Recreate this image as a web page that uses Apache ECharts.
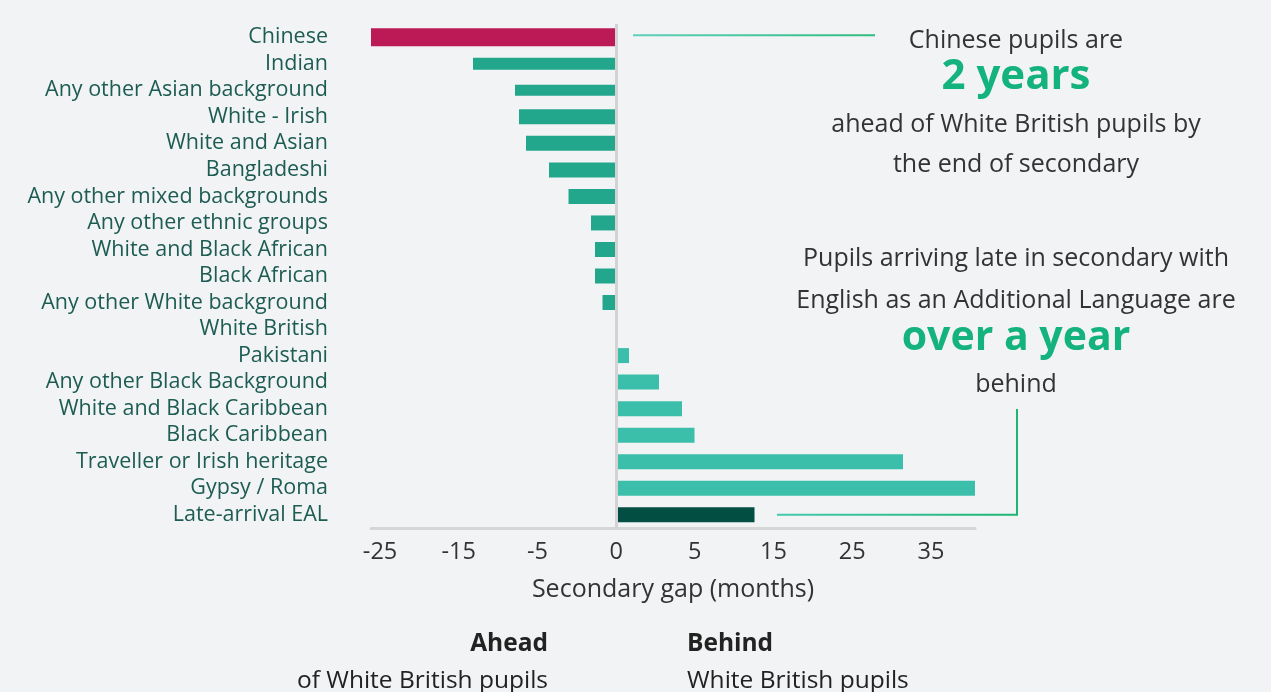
<!DOCTYPE html>
<html>
<head>
<meta charset="utf-8">
<script src="https://cdn.jsdelivr.net/npm/echarts@6/dist/echarts.min.js"></script>
<style>
html,body{margin:0;padding:0;background:#f2f3f5;}
#chart{width:1271px;height:692px;}
</style>
</head>
<body>
<div id="chart"></div>
<script>
// ---- data ----
const categories = [
  'Chinese','Indian','Any other Asian background','White - Irish','White and Asian',
  'Bangladeshi','Any other mixed backgrounds','Any other ethnic groups','White and Black African',
  'Black African','Any other White background','White British','Pakistani',
  'Any other Black Background','White and Black Caribbean','Black Caribbean',
  'Traveller or Irish heritage','Gypsy / Roma','Late-arrival EAL'
];
const values = [
  -24.5, -14.3, -10.1, -9.7, -9.0,
  -6.7, -4.75, -2.5, -2.1,
  -2.1, -1.35, 0, 1.3,
  4.3, 6.6, 7.85,
  28.7, 35.9, 13.85
];
const tickLabels = ['-25','-15','-5','0','5','15','25','35'];
const tickIndex = [0,1,2,3,4,5,6,7];

// ---- styles ----
const FONT = 'Open Sans';
const colorChinese = '#bc1a57';
const colorLate = '#034e42';
const colorNeg = '#22a78d';
const colorPos = '#3bbfaa';
const widthFor = {'Chinese':18, 'Indian':12, 'Any other Asian background':11};
const defaultWidth = 15;

function colorFor(name, v){
  if(name === 'Chinese') return colorChinese;
  if(name === 'Late-arrival EAL') return colorLate;
  return v < 0 ? colorNeg : colorPos;
}

const chart = echarts.init(document.getElementById('chart'), null, {renderer:'canvas'});

const widths = Array.from(new Set(categories.map(c => widthFor[c] || defaultWidth)));
const yAxes = widths.map((w, i) => ({
  type:'category', data:categories, inverse:true,
  show: i === 0,
  axisLine:{show:false}, axisTick:{show:false},
  axisLabel:{color:'#1d5c53', fontSize:21.5, fontFamily:FONT, margin:43, interval:0, hideOverlap:false}
}));
const series = widths.map((w, i) => ({
  type:'bar', yAxisIndex:i, xAxisIndex:0, barWidth:w,
  data: categories.map((c, k) => (widthFor[c] || defaultWidth) === w
        ? {value: values[k], itemStyle:{color: colorFor(c, values[k])}} : '-'),
  silent:true,
  markLine: i === 0 ? {
    silent:true, symbol:'none', label:{show:false},
    lineStyle:{color:'#d3d3d3', width:3, type:'solid'},
    data:[{xAxis:0}]
  } : undefined
}));

const option = {
  backgroundColor:'#f2f3f5',
  animation:false,
  grid:{left:371, right:296, top:24, bottom:164, containLabel:false},
  xAxis:[{
    type:'value',
    min: Math.min(...values), max: Math.max(...values),
    axisLine:{show:true, lineStyle:{color:'#d6d6d6', width:3}},
    axisTick:{show:false}, splitLine:{show:false}, axisLabel:{show:false},
    name:'Secondary gap (months)', nameLocation:'middle', nameGap:49,
    nameTextStyle:{color:'#333', fontSize:25, fontFamily:FONT}
  },{
    type:'value', position:'bottom',
    min:-0.115, max:7.56,
    axisLine:{show:false}, axisTick:{show:false}, splitLine:{show:false},
    axisLabel:{show:true, customValues:tickIndex, color:'#333', fontSize:23.5, fontFamily:FONT, margin:12,
      formatter:(v) => tickLabels[Math.round(v)]}
  }],
  yAxis: yAxes,
  series: series
};
chart.setOption(option);

// ---- annotations ----
const yChinese = chart.convertToPixel({yAxisIndex:0}, 'Chinese');
const yLate = chart.convertToPixel({yAxisIndex:0}, 'Late-arrival EAL');
const cx = 1016;
const txt = (text, y, size, color, weight) => ({
  type:'text', silent:true,
  style:{text, x:cx, y, align:'center', verticalAlign:'middle',
    fill:color, font:(weight||'normal') + ' ' + size + 'px "' + FONT + '"'}
});
chart.setOption({graphic:[
  {type:'line', silent:true, shape:{x1:633, y1:yChinese-2, x2:875, y2:yChinese-2},
   style:{lineWidth:2, stroke:{type:'linear', global:true, x:633, y:0, x2:875, y2:0,
     colorStops:[{offset:0, color:'#5fd0ba'},{offset:1, color:'#2fbd80'}]}}},
  txt('Chinese pupils are', 41, 25, '#333'),
  txt('2 years', 77, 42, '#14b27c', 'bold'),
  txt('ahead of White British pupils by', 125, 25, '#333'),
  txt('the end of secondary', 165, 25, '#333'),
  txt('Pupils arriving late in secondary with', 259, 25, '#333'),
  txt('English as an Additional Language are', 301, 25, '#333'),
  txt('over a year', 338, 41, '#14b27c', 'bold'),
  txt('behind', 385, 25, '#333'),
  {type:'polyline', silent:true, shape:{points:[[777, yLate],[1017, yLate],[1017, 409]]},
   style:{lineWidth:2, fill:null, stroke:{type:'linear', global:true, x:777, y:0, x2:1017, y2:0,
     colorStops:[{offset:0, color:'#45c9ad'},{offset:1, color:'#1db574'}]}}},
  {type:'text', silent:true, style:{text:'Ahead', x:548, y:644, align:'right', verticalAlign:'middle',
     fill:'#222', font:'bold 24.5px "' + FONT + '"'}},
  {type:'text', silent:true, style:{text:'of White British pupils', x:548, y:681, align:'right', verticalAlign:'middle',
     fill:'#222', font:'normal 24.5px "' + FONT + '"'}},
  {type:'text', silent:true, style:{text:'Behind', x:687, y:644, align:'left', verticalAlign:'middle',
     fill:'#222', font:'bold 24.5px "' + FONT + '"'}},
  {type:'text', silent:true, style:{text:'White British pupils', x:687, y:681, align:'left', verticalAlign:'middle',
     fill:'#222', font:'normal 24.5px "' + FONT + '"'}}
]});
</script>
</body>
</html>
